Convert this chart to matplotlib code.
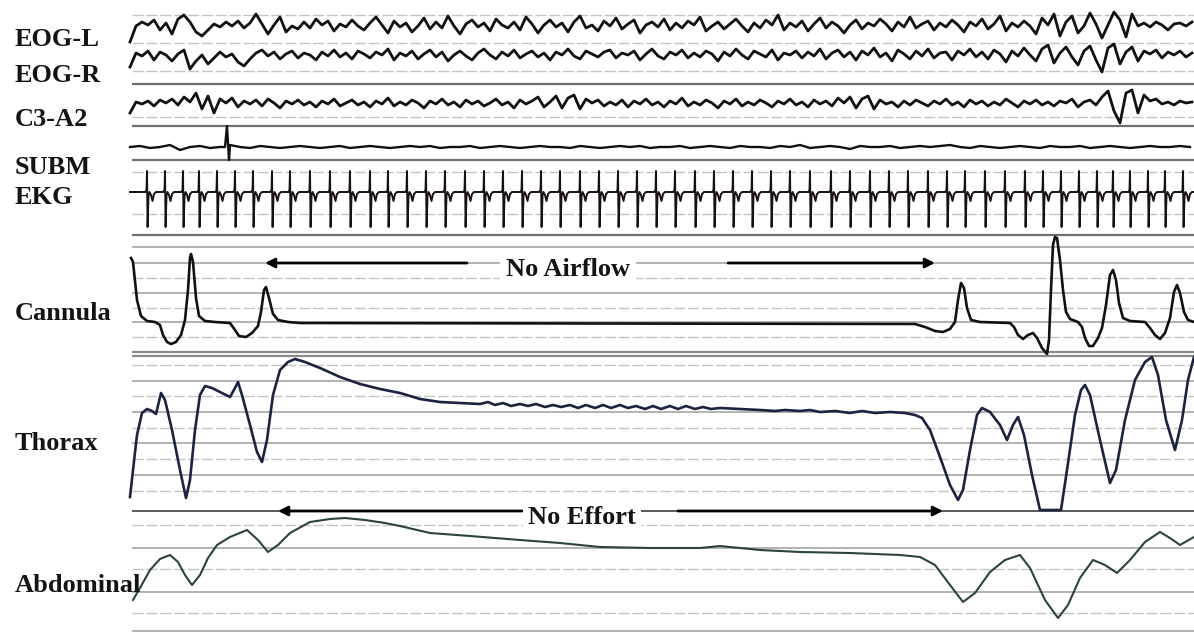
import numpy as np
import matplotlib
matplotlib.use('Agg')
import matplotlib.pyplot as plt

# channel names and their baseline rows (pixel rows of the montage)
labels = ['EOG-L', 'EOG-R', 'C3-A2', 'SUBM', 'EKG', 'Cannula', 'Thorax', 'Abdominal']
label_rows = [40, 76, 119, 168, 197, 314, 444, 586]

# fast channels, one sample every 6 ticks
step = 6
eog_l = [-14, 2, 6, 3, 8, -2, 5, -6, 9, 13,
         6, -4, -8, -2, 4, 1, 6, 2, 7, 0,
         5, 14, 4, -6, 3, 11, -4, 2, -1, 6,
         0, 9, 3, 7, -3, 4, 1, 8, 2, -2,
         5, 11, 3, -5, 7, 1, 5, -4, 2, 10,
         -1, 6, 0, 12, 2, -6, 4, 8, 1, 5,
         -3, 9, 3, 0, 6, -2, 11, 4, -5, 3,
         8, 1, 5, -4, 6, 12, 0, 3, -3, 7,
         2, 10, -1, 4, 8, -5, 3, 6, 1, 9,
         -2, 5, 0, 7, 3, 11, -3, 2, 6, -1,
         4, 9, 2, -4, 5, 0, 8, 3, 13, -2,
         5, 1, 7, -3, 4, 10, 0, 6, 2, -5,
         3, 8, -1, 5, 2, 9, 4, -3, 6, 1,
         11, 0, 4, 7, -2, 5, 1, 8, 3, -4,
         6, 2, 9, -1, 4, 12, -3, 5, 1, 7,
         2, -6, 10, 3, 14, -8, 6, 12, -5, 2,
         15, 4, -10, 3, 16, 8, -9, 14, 2, 5,
         1, 6, 3, -2, 4, 5, 2, 6]
eog_r = [-10, 4, 1, 6, -3, 5, 2, -4, 3, 7,
         -12, -4, 2, -7, -1, 5, 0, 3, -5, -9,
         -2, 4, 7, 1, 5, -2, 3, 6, -1, 4,
         2, -3, 5, 1, 7, 0, 4, -2, 6, 3,
         -1, 5, 2, 8, -3, 4, 1, 6, -2, 3,
         7, 0, 5, -4, 2, 6, 1, -3, 4, 8,
         2, -2, 5, 1, 7, -1, 3, 6, 0, 4,
         -3, 5, 2, 8, 1, -2, 6, 3, 0, 5,
         7, -1, 4, 2, 6, -3, 3, 8, 1, -2,
         5, 2, 7, -1, 4, 0, 6, 3, -4, 5,
         1, 8, 2, -2, 6, 3, 0, 7, -3, 4,
         2, 6, -1, 5, 1, 8, -2, 4, 7, 0,
         5, -3, 6, 2, 9, 0, 4, -4, 7, 3,
         -2, 6, 1, 8, -1, 4, 5, -3, 6, 2,
         8, 0, 5, -2, 7, 3, -5, 6, 1, 9,
         2, -4, 8, 12, -6, 4, 10, 0, -8, 6,
         11, -3, -15, 9, 13, -7, 5, 10, -4, 6,
         3, 7, -1, 5, 2, 6, 0, 4]
c3_a2 = [-8, 3, 1, 4, -1, 5, 2, 6, 0, 8,
         3, 12, -4, 9, -8, 6, 2, 7, -2, 4,
         1, 5, -1, 6, 2, -3, 4, 1, 5, 0,
         3, -2, 4, 1, 6, -1, 2, 5, 0, 3,
         -2, 4, 1, 7, -1, 3, 0, 5, 2, -3,
         4, 1, 6, 0, 3, -2, 5, 1, 4, -1,
         2, 6, 0, 3, -3, 5, 1, 4, 8, -2,
         3, 9, -3, 7, 10, -4, 6, 2, 5, -1,
         3, 0, 5, -2, 4, 1, 6, 0, 3, -2,
         4, 1, 7, -1, 3, 0, 5, 2, -3, 4,
         1, 6, -1, 3, 0, 5, 2, -2, 4, 1,
         6, 0, 3, -2, 5, 1, 4, -1, 7, 2,
         8, -3, 6, 9, -4, 5, 1, 3, -2, 4,
         0, 5, 2, -1, 4, 1, 6, 0, 3, -2,
         5, 1, 4, -1, 3, 0, 6, 2, -2, 4,
         1, 5, 0, 3, -1, 4, 2, 6, -2, 3,
         5, 0, 8, 14, -6, -18, 12, 15, -8, 10,
         4, 6, 1, 3, 0, 4, 2, 3]

# chin EMG, every 10 ticks, plus the movement artifact
subm = [0, 1, -1, 0, 2, -3, 0, 1, -1, 0,
        2, 0, -1, 1, 0, -1, 0, 1, 0, -1,
        0, 1, -1, 0, 1, 0, -1, 0, 1, 0,
        1, -1, 0, 0, 1, -1, 0, 1, 0, -1,
        0, 1, 0, 0, -1, 1, 0, -1, 0, 1,
        0, 1, -1, 0, 0, 1, -1, 0, 1, 0,
        -1, 1, 0, 0, -1, 1, 0, 2, -1, 0,
        1, 0, -2, 1, 0, 0, 1, -1, 0, 1,
        0, 1, 2, 0, -1, 1, 0, -1, 0, 1,
        0, -1, 1, 0, 0, 1, -1, 0, 1, 0,
        -1, 0, 1, 0, 0, 1, 0]
subm_spike_t = [95, 97, 99]
subm_spike = [0, 21, -13]

# R-peak times of the EKG and the shape of one beat
ekg_beats = [17, 35, 53, 69, 87, 105, 123, 142, 160, 180, 200, 220, 240, 258, 277,
             296, 315, 335, 354, 373, 392, 411, 430, 450, 469, 488, 507, 526, 545,
             565, 584, 603, 622, 641, 660, 680, 701, 720, 740, 759, 778, 798, 817,
             835, 855, 875, 895, 913, 931, 949, 967, 983, 1000, 1018, 1035, 1053]
beat_t = [-4, -1.5, -0.5, 0, 0.6, 1.5, 2.5, 4, 5.5, 7, 9]
beat_v = [0, 0, 2, 21, -35, -4, 0, -3, -9, -2, 0]

# nasal pressure
cannula_t = [1, 3, 7, 11, 17, 25, 30, 33, 37, 41, 46, 51, 55, 58, 60, 61, 63, 66, 69, 75,
             85, 100, 105, 109, 116, 122, 128, 131, 134, 136, 139, 143, 148, 158, 170,
             785, 795, 805, 813, 820, 825, 828, 831, 834, 837, 841, 850, 880, 884, 888,
             893, 898, 903, 907, 912, 917, 919, 921, 923, 925, 927, 930, 933, 936, 940,
             948, 952, 955, 959, 963, 968, 972, 976, 980, 983, 986, 989, 993, 1000, 1015,
             1020, 1025, 1030, 1035, 1040, 1044, 1047, 1050, 1054, 1058, 1064]
cannula = [65, 61, 23, 7, 2, 1, -2, -12, -19, -21, -19, -12, 3, 33, 65, 69, 61, 25, 7, 2,
           1, 0, -7, -13, -14, -10, -3, 11, 33, 36, 25, 9, 3, 1, 0,
           -1, -4, -8, -9, -6, 1, 23, 40, 35, 15, 3, 1, 0, -4, -12,
           -16, -12, -10, -15, -25, -31, -17, 33, 78, 86, 85, 63, 33, 11, 4,
           1, -4, -15, -23, -23, -15, -5, 18, 48, 53, 43, 20, 5, 2, 1,
           -5, -12, -16, -10, 5, 31, 38, 30, 11, 3, 1]

# thoracic belt
thorax_t = [0, 3, 7, 12, 17, 22, 26, 31, 35, 42, 50, 56, 60, 65, 70, 75, 82, 92, 100, 105,
            108, 112, 120, 127, 132, 137, 143, 150, 158, 165, 175, 190, 210, 230, 250,
            270, 290, 310, 330, 350, 358, 365, 373, 381, 390, 398, 406, 415, 423, 431,
            440, 448, 456, 465, 473, 481, 490, 498, 506, 515, 523, 531, 540, 548, 556,
            565, 573, 581, 590, 610, 630, 645, 655, 670, 680, 690, 705, 720, 732, 745,
            760, 775, 785, 792, 800, 810, 820, 828, 833, 840, 847, 852, 860, 870, 877,
            883, 888, 894, 902, 910, 931, 937, 945, 951, 955, 960, 970, 980, 986, 995,
            1005, 1015, 1022, 1028, 1036, 1045, 1052, 1058, 1064]
thorax = [-87, -60, -25, -3, 1, -1, -4, 17, 10, -20, -60, -88, -70, -20, 15, 24, 22, 17, 13, 22,
          28, 15, -15, -42, -52, -30, 15, 40, 48, 51, 48, 42, 33, 26, 21,
          17, 11, 8, 7, 6, 8, 5, 7, 4, 6, 4, 6, 3, 5, 3,
          5, 2, 5, 2, 5, 2, 5, 2, 4, 1, 4, 1, 4, 1, 4,
          1, 3, 1, 2, 1, 0, -1, 0, -1, 0, -2, -1, -3, -1, -3,
          -2, -3, -5, -8, -20, -47, -75, -90, -80, -40, -5, 2, -2, -15, -30,
          -15, -7, -25, -65, -100, -100, -60, -5, 20, 25, 15, -30, -73, -60, -10,
          30, 48, 53, 35, -10, -40, -10, 30, 53]

# abdominal belt
abdomen_t = [3, 10, 20, 30, 40, 48, 55, 62, 70, 78, 87, 100, 117, 128, 138, 148, 160, 180,
             200, 215, 235, 255, 270, 300, 340, 390, 430, 470, 520, 570, 590, 630, 670,
             720, 770, 790, 805, 820, 833, 845, 860, 875, 890, 900, 915, 928, 938, 950,
             963, 975, 987, 1000, 1015, 1030, 1040, 1050, 1064]
abdomen = [-52, -40, -22, -11, -7, -14, -27, -37, -27, -10, 3, 11, 18, 8, -4, 3, 15, 26,
           29, 30, 28, 25, 22, 15, 12, 8, 5, 1, 0, 0, 2, -2, -4,
           -5, -7, -9, -17, -37, -54, -45, -24, -12, -7, -20, -52, -70, -57, -30,
           -12, -17, -25, -12, 6, 16, 10, 3, 11]

# baseline row of every trace
rows = {'eog_l': 28, 'eog_r': 57, 'c3': 105, 'subm': 147, 'ekg': 192,
        'cannula': 323, 'thorax': 410, 'abdomen': 548}

fig = plt.figure(figsize=(11.94, 6.32), dpi=100)
ax = fig.add_axes([0, 0, 1, 1])
ax.set_xlim(-130, 1064)
ax.set_ylim(632, 0)
ax.axis('off')

# chart paper ruling
x0, x1 = 2, 1064
ax.hlines([84, 126, 160, 235], x0, x1, color='#6e6e6e', lw=1.6, zorder=1)
ax.hlines([352, 356], x0, x1, color='#8a8a8a', lw=1.6, zorder=1)
ax.hlines([511], x0, x1, color='#5a5a5a', lw=1.4, zorder=1)
ax.hlines([247, 263, 293, 322, 381, 412, 443, 475, 548, 592, 631], x0, x1,
          color='#a6a6a6', lw=1.2, zorder=1)
ax.hlines([15, 43, 71, 117, 172, 214, 278, 308, 337, 365, 396, 428, 459, 491, 525, 569, 613],
          x0, x1, color='#c4c4c4', lw=1.0, linestyles=(0, (8, 2)), zorder=1)

tf = np.arange(len(eog_l)) * step
ax.plot(tf, rows['eog_l'] - np.array(eog_l), color='#111111', lw=2.0, zorder=3)
ax.plot(tf, rows['eog_r'] - np.array(eog_r), color='#111111', lw=2.0, zorder=3)
ax.plot(tf, rows['c3'] - np.array(c3_a2), color='#111111', lw=2.0, zorder=3)

ts = np.concatenate([np.arange(len(subm)) * 10, subm_spike_t])
vs = np.concatenate([subm, subm_spike])
order = np.argsort(ts, kind='stable')
ax.plot(ts[order], rows['subm'] - vs[order], color='#111111', lw=1.7, zorder=3)

bt = (np.array(ekg_beats)[:, None] + np.array(beat_t)[None, :]).ravel()
bv = np.tile(beat_v, len(ekg_beats))
bt = np.concatenate([[0], bt, [1064]])
bv = np.concatenate([[0], bv, [0]])
ax.plot(bt, rows['ekg'] - bv, color='#1a1010', lw=1.4, zorder=3)

ax.plot(cannula_t, rows['cannula'] - np.array(cannula), color='#111111', lw=1.9, zorder=3)
ax.plot(thorax_t, rows['thorax'] - np.array(thorax), color='#1c2340', lw=1.9, zorder=3)
ax.plot(abdomen_t, rows['abdomen'] - np.array(abdomen), color='#2c4436', lw=1.5, zorder=3)

# event annotations
arrow = dict(arrowstyle='-|>', color='black', lw=2, mutation_scale=14, shrinkA=0, shrinkB=0)
ax.annotate('', xy=(135, 263), xytext=(337, 263), arrowprops=arrow, zorder=4)
ax.annotate('', xy=(805, 263), xytext=(598, 263), arrowprops=arrow, zorder=4)
ax.annotate('', xy=(148, 511), xytext=(392, 511), arrowprops=arrow, zorder=4)
ax.annotate('', xy=(813, 511), xytext=(548, 511), arrowprops=arrow, zorder=4)

lbl = dict(family='Liberation Serif', weight='bold', fontsize=19, color='#141414')
ax.text(438, 270, 'No Airflow', ha='center', va='center', zorder=5,
        bbox=dict(facecolor='white', edgecolor='none', pad=4), **lbl)
ax.text(452, 517, 'No Effort', ha='center', va='center', zorder=5,
        bbox=dict(facecolor='white', edgecolor='none', pad=4), **lbl)

for name, row in zip(labels, label_rows):
    ax.text(-115, row, name, ha='left', va='center', zorder=6, **lbl)

fig.savefig('out.png', dpi=100)
